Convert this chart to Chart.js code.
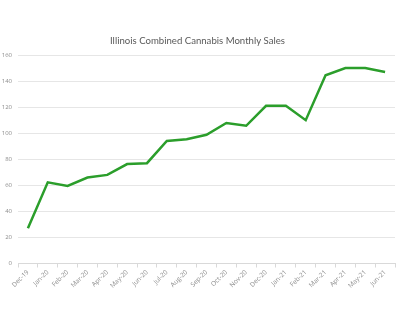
<!DOCTYPE html>
<html>
<head>
<meta charset="utf-8">
<script src="https://cdn.jsdelivr.net/npm/chart.js@4"></script>
<style>
  html, body { margin: 0; padding: 0; background: #fff; }
  #wrap { width: 420px; height: 322px; }
</style>
</head>
<body>
<div id="wrap"><canvas id="chart" width="420" height="322"></canvas></div>
<script>
const months = ["Dec-19", "Jan-20", "Feb-20", "Mar-20", "Apr-20", "May-20", "Jun-20",
    "Jul-20", "Aug-20", "Sep-20", "Oct-20", "Nov-20", "Dec-20", "Jan-21", "Feb-21",
    "Mar-21", "Apr-21", "May-21", "Jun-21"];
const sales = [27, 62.3, 59.5, 66, 68, 76.3, 77, 94, 95.3, 98.8, 107.8, 105.7, 121, 121,
    110, 144.5, 150, 150, 147];
const yTicks = [0, 20, 40, 60, 80, 100, 120, 140, 160];

const ctx = document.getElementById("chart").getContext("2d");

// Excel-style line chart
const chart = new Chart(ctx, {
    type: "line",
    data: {
        labels: months,
        datasets: [{
            label: "Sales",
            data: sales,
            borderColor: "#2b9e2b",
            borderWidth: 2.5,
            pointRadius: 0,
            tension: 0,
            fill: false
        }]
    },
    options: {
        responsive: false,
        animation: false,
        layout: { padding: { left: 0, right: 25, top: 0, bottom: 0 } },
        plugins: {
            legend: { display: false },
            tooltip: { enabled: false },
            title: {
                display: true,
                text: "Illinois Combined Cannabis Monthly Sales",
                color: "#595959",
                font: { family: "Lato", size: 9.6, weight: "normal" },
                padding: { top: 35, bottom: 8.5 }
            }
        },
        scales: {
            x: {
                offset: true,
                grid: {
                    offset: true,
                    drawOnChartArea: false,
                    color: "#d9d9d9",
                    tickLength: 4
                },
                border: { color: "#d9d9d9" },
                ticks: {
                    color: "#8c8c8c",
                    font: { family: "Open Sans", size: 6.5 },
                    minRotation: 45,
                    maxRotation: 45,
                    autoSkip: false,
                    padding: 1
                },
                afterFit(scale) { scale.height = 58.5; }
            },
            y: {
                min: 0,
                max: 160,
                afterBuildTicks(scale) {
                    scale.ticks = yTicks.map(v => ({ value: v }));
                },
                grid: { color: "#e6e6e6", drawTicks: false },
                border: { display: false },
                ticks: {
                    color: "#8c8c8c",
                    font: { family: "Open Sans", size: 6 },
                    padding: 6
                },
                afterFit(scale) { scale.width = 18; }
            }
        }
    }
});
</script>
</body>
</html>
